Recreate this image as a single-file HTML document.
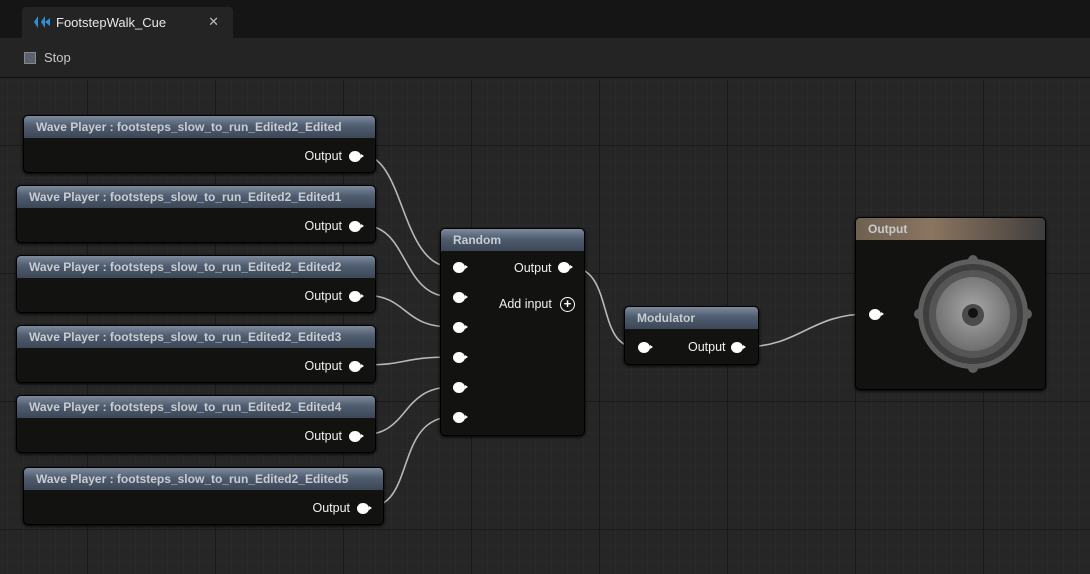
<!DOCTYPE html>
<html><head><meta charset="utf-8"><style>
*{margin:0;padding:0;box-sizing:border-box}
body{width:1090px;height:574px;overflow:hidden;background:#262626;font-family:"Liberation Sans",sans-serif;position:relative}
#tabbar{position:absolute;left:0;top:0;width:1090px;height:38px;background:#151515}
#tab{position:absolute;left:22px;top:7px;width:211px;height:31px;background:#242424;border-radius:4px 4px 0 0}
#tab .t{position:absolute;left:34px;top:8px;color:#e8e8e8;font-size:13px}
#tab .x{position:absolute;right:14px;top:7px;color:#bbb;font-size:13px}
#toolbar{position:absolute;left:0;top:38px;width:1090px;height:40px;background:#242424;border-bottom:1px solid #111}
#toolbar .cb{position:absolute;left:24px;top:14px;width:12px;height:12px;background:#5a6270;border:1px solid #888;}
#toolbar .s{position:absolute;left:44px;top:12px;color:#c8c8c8;font-size:13px}
#canvas{position:absolute;left:0;top:79px;width:1090px;height:495px;background-color:#262626;
background-image:linear-gradient(#1a1a1a 1px,transparent 1px),linear-gradient(90deg,#1a1a1a 1px,transparent 1px),linear-gradient(#2a2a2a 1px,transparent 1px),linear-gradient(90deg,#2a2a2a 1px,transparent 1px);
background-size:128px 128px,128px 128px,16px 16px,16px 16px;background-position:0 66px,87px 0,0 2px,7px 0}
.node{position:absolute;background:#121311;border:1px solid #000;border-radius:5px;box-shadow:0 1px 3px #000}
.hd{height:22px;border-radius:4px 4px 0 0;background:linear-gradient(180deg,#7d8a9c 0%,#4f5d70 45%,#3c4757 100%);color:#c9ccd0;font-weight:bold;font-size:12px;padding:4px 0 0 12px;white-space:nowrap;overflow:hidden}
.lbl{position:absolute;color:#f0f0f0;font-size:12.5px}
.pin{position:absolute;width:12px;height:11px;border-radius:50%;background:#fff}
.pin:after{content:"";position:absolute;left:12px;top:3px;border-left:3px solid #fff;border-top:2.5px solid transparent;border-bottom:2.5px solid transparent}
svg{position:absolute;left:0;top:0}
</style></head><body>
<div id="tabbar"><div id="tab">
<svg width="24" height="20" style="left:9px;top:6px"><path d="M3 9 L7 3 L7 15 Z M10 9 L14 3 L14 15 Z M14 9 L19 5 L19 13Z" fill="#2f8fd8"/></svg>
<div class="t">FootstepWalk_Cue</div><div class="x">✕</div></div></div>
<div id="toolbar"><div class="cb"></div><div class="s">Stop</div></div>
<div id="canvas"></div>
<svg width="1090" height="574">
<g fill="none" stroke="#b8b8b8" stroke-width="1.6">
<path d="M362 155 C405 155 400 267 452 267"/>
<path d="M362 225 C410 225 400 297 452 297"/>
<path d="M362 295 C410 295 400 327 452 327"/>
<path d="M362 365 C410 365 400 357 452 357"/>
<path d="M362 435 C410 435 400 387 452 387"/>
<path d="M369 507 C415 507 395 417 452 417"/>
<path d="M570 267 C615 267 595 347 636 347"/>
<path d="M743 347 C800 347 810 314 868 314"/>
</g></svg>

<div class="node" style="left:23px;top:115px;width:353px;height:58px"><div class="hd">Wave Player : footsteps_slow_to_run_Edited2_Edited</div><div class="lbl" style="right:33px;top:33px">Output</div><div class="pin" style="left:325px;top:35px"></div></div>
<div class="node" style="left:16px;top:185px;width:360px;height:58px"><div class="hd">Wave Player : footsteps_slow_to_run_Edited2_Edited1</div><div class="lbl" style="right:33px;top:33px">Output</div><div class="pin" style="left:332px;top:35px"></div></div>
<div class="node" style="left:16px;top:255px;width:360px;height:58px"><div class="hd">Wave Player : footsteps_slow_to_run_Edited2_Edited2</div><div class="lbl" style="right:33px;top:33px">Output</div><div class="pin" style="left:332px;top:35px"></div></div>
<div class="node" style="left:16px;top:325px;width:360px;height:58px"><div class="hd">Wave Player : footsteps_slow_to_run_Edited2_Edited3</div><div class="lbl" style="right:33px;top:33px">Output</div><div class="pin" style="left:332px;top:35px"></div></div>
<div class="node" style="left:16px;top:395px;width:360px;height:58px"><div class="hd">Wave Player : footsteps_slow_to_run_Edited2_Edited4</div><div class="lbl" style="right:33px;top:33px">Output</div><div class="pin" style="left:332px;top:35px"></div></div>
<div class="node" style="left:23px;top:467px;width:361px;height:58px"><div class="hd">Wave Player : footsteps_slow_to_run_Edited2_Edited5</div><div class="lbl" style="right:33px;top:33px">Output</div><div class="pin" style="left:333px;top:35px"></div></div>

<div class="node" style="left:440px;top:228px;width:145px;height:208px"><div class="hd">Random</div>
<div class="pin" style="left:12px;top:33px"></div><div class="pin" style="left:12px;top:63px"></div><div class="pin" style="left:12px;top:93px"></div><div class="pin" style="left:12px;top:123px"></div><div class="pin" style="left:12px;top:153px"></div><div class="pin" style="left:12px;top:183px"></div>
<div class="lbl" style="left:73px;top:32px">Output</div><div class="pin" style="left:117px;top:33px"></div>
<div class="lbl" style="left:58px;top:68px">Add input</div>
<div style="position:absolute;left:119px;top:68px;width:15px;height:15px;border:1.5px solid #fff;border-radius:50%;color:#fff;font-size:13px;line-height:11px;text-align:center;font-weight:bold">+</div>
</div>

<div class="node" style="left:624px;top:306px;width:135px;height:59px"><div class="hd">Modulator</div>
<div class="pin" style="left:13px;top:35px"></div><div class="lbl" style="left:63px;top:33px">Output</div><div class="pin" style="left:106px;top:35px"></div></div>

<div class="node" style="left:855px;top:217px;width:191px;height:173px"><div class="hd" style="background:linear-gradient(90deg,#6e6050 0%,#8a7560 40%,#5a5048 80%,#3e3e3e 100%)">Output</div>
<div class="pin" style="left:13px;top:91px"></div>
<svg width="130" height="130" style="left:52px;top:31px">
<defs><radialGradient id="g" cx="50%" cy="45%" r="55%"><stop offset="0" stop-color="#a8a8a8"/><stop offset="1" stop-color="#6e6e6e"/></radialGradient></defs>
<circle cx="65" cy="65" r="55" fill="#5e5e5e"/>
<circle cx="65" cy="11" r="5" fill="#5e5e5e"/><circle cx="65" cy="119" r="5" fill="#5e5e5e"/><circle cx="11" cy="65" r="5" fill="#5e5e5e"/><circle cx="119" cy="65" r="5" fill="#5e5e5e"/>
<circle cx="65" cy="65" r="50" fill="#3e3e3e"/>
<circle cx="65" cy="65" r="44" fill="#555"/>
<circle cx="65" cy="65" r="37" fill="url(#g)"/>
<circle cx="65" cy="66" r="11" fill="#4a4a4a"/><circle cx="65" cy="64" r="5" fill="#111"/>
</svg></div>
</body></html>
